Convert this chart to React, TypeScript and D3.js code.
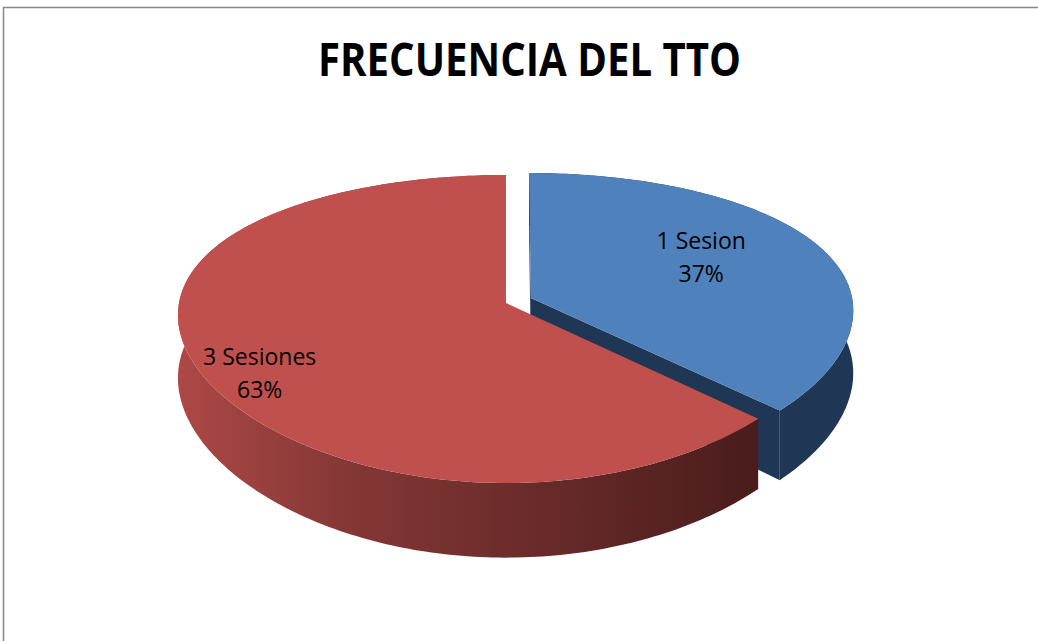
import React from "react";
import * as d3 from "d3";

const title = "FRECUENCIA DEL TTO";
const categories = ["1 Sesion", "3 Sesiones"];
const values = [37, 63];
const topColors = ["#4F81BD", "#C0504D"];
const sideColors = ["#1F3655", "url(#redSide)"];
const explode = [0.083, 0];
const sliceScale = [0.985, 1];

const W = 1038;
const H = 641;

// projection parameters (3D perspective pie)
const cx = 506;
const cy = 303;
const A = 327; // horizontal radius
const B = 149.6; // vertical radius factor
const kx = 0.08; // horizontal perspective
const k = 0.169; // vertical perspective
const HT = 62; // thickness

function proj(x: number, z: number, depth: number): [number, number] {
  const sx = cx + (A * x) / (1 + kx * z);
  const sy = cy - (B * z) / (1 + k * z) + (depth * HT) / (1 + k * z);
  return [sx, sy];
}

export default function App() {
  const pie = d3
    .pie<number>()
    .sort(null)
    .startAngle(0)
    .endAngle(2 * Math.PI)
    .value((d) => d);
  const arcs = pie(values);
  const line = d3.line();

  const slices = arcs.map((a, i) => {
    const mid = (a.startAngle + a.endAngle) / 2;
    const ox = explode[i] * Math.sin(mid);
    const oz = explode[i] * Math.cos(mid);
    const sc = sliceScale[i];
    const P = (r: number, t: number, dep: number) =>
      proj(ox + r * sc * Math.sin(t), oz + r * sc * Math.cos(t), dep);
    const steps = Math.max(2, Math.ceil(((a.endAngle - a.startAngle) * 180) / Math.PI));
    const angles = d3.range(steps + 1).map((j) => a.startAngle + ((a.endAngle - a.startAngle) * j) / steps);
    const topRim = angles.map((t) => P(1, t, 0));
    const botRim = angles.map((t) => P(1, t, 1));
    const side = line([...topRim, ...botRim.slice().reverse()]) + "Z";
    const top = line([P(0, 0, 0), ...topRim]) + "Z";
    const cutStart = line([P(0, 0, 0), P(1, a.startAngle, 0), P(1, a.startAngle, 1), P(0, 0, 1)]) + "Z";
    const cutEnd = line([P(0, 0, 0), P(1, a.endAngle, 0), P(1, a.endAngle, 1), P(0, 0, 1)]) + "Z";
    return { a, i, mid, side, top, cutStart, cutEnd, P };
  });

  const labelRadius = [0.59, 0.8];
  const labelDy = [0, 28];

  return (
    <svg
      width={W}
      height={H}
      style={{ position: "absolute", left: 0, top: 0, background: "#fff" }}
      fontFamily="'Open Sans', sans-serif"
    >
      <defs>
        <linearGradient id="redSide" gradientUnits="userSpaceOnUse" x1={175} y1={0} x2={760} y2={0}>
          <stop offset="0" stopColor="#ad4946" />
          <stop offset="0.3" stopColor="#843735" />
          <stop offset="0.7" stopColor="#622827" />
          <stop offset="1" stopColor="#4a1c1c" />
        </linearGradient>
      </defs>
      <rect x={3.5} y={7.5} width={1200} height={800} fill="#fff" stroke="#868686" strokeWidth={1.5} />
      <text
        x={529.5}
        y={76}
        textAnchor="middle"
        fontSize={47}
        fontWeight="bold"
        textLength={423}
        lengthAdjust="spacingAndGlyphs"
        fill="#000"
      >
        {title}
      </text>
      {slices.map((s) => (
        <g key={s.i}>
          {s.i === 0 && <path d={s.cutStart} fill={sideColors[s.i]} />}
          <path d={s.side} fill={sideColors[s.i]} />
          {s.i === 0 && <path d={s.cutEnd} fill={sideColors[s.i]} />}
          <path d={s.top} fill={topColors[s.i]} />
        </g>
      ))}
      {slices.map((s) => {
        const [lx, ly] = s.P(labelRadius[s.i], s.mid, 0);
        const y0 = ly + labelDy[s.i];
        return (
          <g key={"l" + s.i} fontSize={23} fill="#000" textAnchor="middle">
            <text x={lx} y={y0 - 16}>
              {categories[s.i]}
            </text>
            <text x={lx} y={y0 + 17}>
              {Math.round((values[s.i] / d3.sum(values)) * 100) + "%"}
            </text>
          </g>
        );
      })}
    </svg>
  );
}
